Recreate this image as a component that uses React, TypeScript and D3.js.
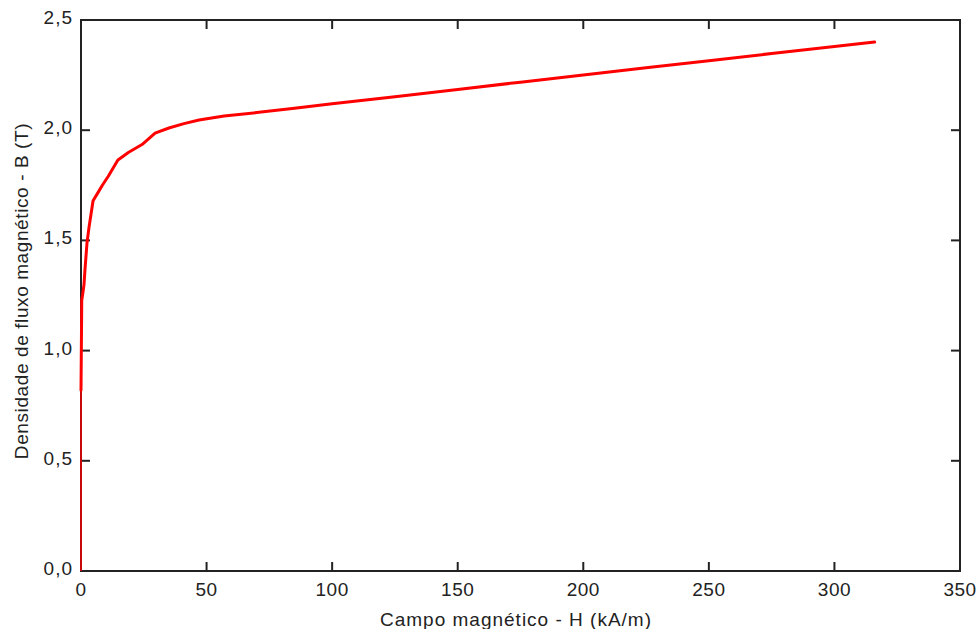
import React from "react";
import * as d3 from "d3";

const H_VALUES = [0, 0, 0.3, 0.6, 1.2, 1.6, 2.4, 3.2, 4.0, 4.8, 6.4, 8.5, 10.8, 14.7, 19, 24.3, 29.5, 35, 41, 47, 57, 70, 85, 100, 125, 150, 175, 200, 225, 250, 275, 300, 316];
const B_VALUES = [0, 0.82, 1.23, 1.25, 1.3, 1.37, 1.49, 1.56, 1.62, 1.68, 1.71, 1.75, 1.79, 1.865, 1.9, 1.935, 1.987, 2.01, 2.03, 2.046, 2.064, 2.08, 2.1, 2.12, 2.152, 2.185, 2.218, 2.25, 2.283, 2.315, 2.348, 2.38, 2.4];
const X_TICKS = [0, 50, 100, 150, 200, 250, 300, 350];
const Y_TICKS = [0, 0.5, 1.0, 1.5, 2.0, 2.5];
const X_TITLE = "Campo magnético - H  (kA/m)";
const Y_TITLE = "Densidade de fluxo magnético - B (T)";

const W = 978;
const HGT = 629;
const M = { left: 81, right: 960, top: 20, bottom: 571 };
const FONT = "'Liberation Sans', Arial, sans-serif";

export default function App() {
  const x = d3.scaleLinear().domain([0, 350]).range([M.left, M.right]);
  const y = d3.scaleLinear().domain([0, 2.5]).range([M.bottom, M.top]);
  const pts: [number, number][] = H_VALUES.map((h, i) => [h, B_VALUES[i]]);
  const line = d3
    .line<[number, number]>()
    .x((d) => x(d[0]))
    .y((d) => y(d[1]));
  const thin = line(pts.slice(0, 2)) || "";
  const thick = line(pts.slice(1)) || "";
  const tickLen = 9;
  const fmtY = (v: number) => v.toFixed(1).replace(".", ",");

  return (
    <svg
      width={W}
      height={HGT}
      style={{ position: "absolute", left: 0, top: 0, background: "#fff" }}
      fontFamily={FONT}
    >
      <rect x={0} y={0} width={W} height={HGT} fill="#fff" />
      {/* frame */}
      <rect
        x={M.left}
        y={M.top}
        width={M.right - M.left}
        height={M.bottom - M.top}
        fill="none"
        stroke="#222"
        strokeWidth={2}
      />
      {/* ticks */}
      {X_TICKS.map((t) => (
        <g key={"xt" + t}>
          <line x1={x(t)} x2={x(t)} y1={M.bottom} y2={M.bottom - tickLen} stroke="#222" strokeWidth={2} />
          <line x1={x(t)} x2={x(t)} y1={M.top} y2={M.top + tickLen} stroke="#222" strokeWidth={2} />
          <text x={x(t)} y={596} textAnchor="middle" fontSize={19} letterSpacing={0.5} fill="#222">
            {t}
          </text>
        </g>
      ))}
      {Y_TICKS.map((t) => (
        <g key={"yt" + t}>
          <line x1={M.left} x2={M.left + tickLen} y1={y(t)} y2={y(t)} stroke="#222" strokeWidth={2} />
          <line x1={M.right} x2={M.right - tickLen} y1={y(t)} y2={y(t)} stroke="#222" strokeWidth={2} />
          <text x={73} y={y(t) + 4} textAnchor="end" fontSize={19} letterSpacing={1} fill="#222">
            {fmtY(t)}
          </text>
        </g>
      ))}
      {/* curve */}
      <path d={thin} fill="none" stroke="#ff0000" strokeWidth={1.5} />
      <path d={thick} fill="none" stroke="#ff0000" strokeWidth={3} strokeLinejoin="round" strokeLinecap="round" />
      {/* titles */}
      <text x={516} y={626} textAnchor="middle" fontSize={19} letterSpacing={1} fill="#222">
        {X_TITLE}
      </text>
      <text
        transform={`translate(28, ${291}) rotate(-90)`}
        textAnchor="middle"
        fontSize={19}
        letterSpacing={0.6}
        fill="#222"
      >
        {Y_TITLE}
      </text>
    </svg>
  );
}
